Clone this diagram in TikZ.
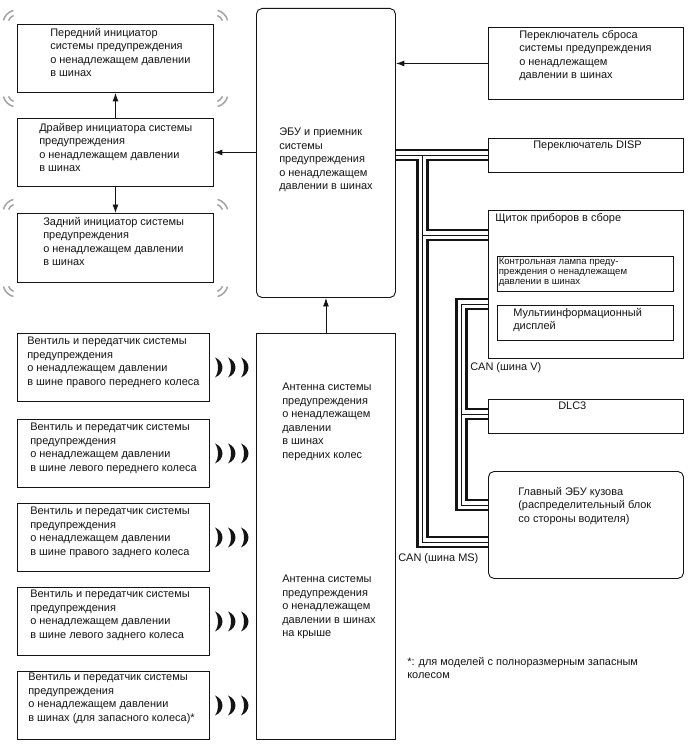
\documentclass[tikz,border=0pt]{standalone}
\usepackage{fontspec}
\setmainfont{Liberation Sans}
\usetikzlibrary{arrows.meta,calc}
\definecolor{tInk}{RGB}{20,20,20}
\definecolor{tPing}{RGB}{165,165,165}

\begin{document}
\begin{tikzpicture}[
				x=0.025cm,y=-0.025cm,
				>={Latex[length=6pt,width=4.2pt]},
				blk/.style={
					draw=tInk,line width=0.65pt,inner sep=0pt,anchor=north west,
					minimum width=4.9cm,minimum height=1.7cm
				},
				rblk/.style={blk,rounded corners=4pt},
				txt/.style={anchor=north west,inner sep=0pt,align=left,text=tInk,font=\fontsize{7.8}{9.6}\selectfont},
				sml/.style={txt,font=\fontsize{6.8}{7.1}\selectfont},
				lnk/.style={->,draw=tInk,line width=0.6pt},
				bus/.style={
					draw=tInk,line width=0.6pt,
					preaction={draw=tInk,line width=9pt},
					preaction={draw=white,line width=5pt}
				},
				pingline/.style={draw=tPing,line width=1.1pt},
				ping/.pic={
					\draw[pingline] (112:6.5pt) arc[start angle=112,end angle=158,radius=6.5pt];
					\draw[pingline] (105:10pt) arc[start angle=105,end angle=165,radius=10pt];
				},
				waves/.pic={
					\fill[tInk] (0,-10) .. controls (10,-6) and (10,6) .. (0,10) .. controls (4,5) and (4,-5) .. cycle;
					\fill[tInk] (13,-10) .. controls (23,-6) and (23,6) .. (13,10) .. controls (17,5) and (17,-5) .. cycle;
					\fill[tInk] (26,-10) .. controls (36,-6) and (36,6) .. (26,10) .. controls (30,5) and (30,-5) .. cycle;
				}
				]
				\useasboundingbox (0,0) rectangle (688,755);

				\node[blk] (fini) at (17,24)  {};
				\node[blk] (drv)  at (17,118) {};
				\node[blk,minimum height=1.725cm] (rini) at (17,213) {};
				\node[rblk,minimum width=3.475cm,minimum height=7.225cm] (ecu) at (256,8) {};
				\node[blk,minimum width=4.875cm,minimum height=1.8cm]  (rst)  at (488,27)  {};
				\node[blk,minimum width=4.875cm,minimum height=0.85cm] (disp) at (488,138) {};
				\node[blk,minimum width=4.875cm,minimum height=3.7cm]  (cmb)  at (488,210) {};
				\node[blk,minimum width=4.4cm,minimum height=0.875cm]  (lamp) at (497,256) {};
				\node[blk,minimum width=4.4cm,minimum height=0.875cm]  (mid)  at (497,305) {};
				\node[blk,minimum width=4.875cm,minimum height=0.85cm] (dlc)  at (488,399) {};
				\node[rblk,minimum width=4.875cm,minimum height=2.675cm] (bcm) at (488,471) {};
				\node[blk,minimum width=3.475cm,minimum height=10.15cm] (ant) at (256,333) {};
				\node[blk,minimum width=4.8cm] (tx1) at (17,333) {};
				\node[blk,minimum width=4.8cm] (tx2) at (17,419) {};
				\node[blk,minimum width=4.8cm] (tx3) at (17,503) {};
				\node[blk,minimum width=4.8cm] (tx4) at (17,587) {};
				\node[blk,minimum width=4.8cm] (tx5) at (17,671) {};

				\node[txt] (finiT) at ($(fini.north west)+(33,4)$)  {Передний инициатор\\системы предупреждения\\о ненадлежащем давлении\\в шинах};
				\node[txt] (drvT)  at ($(drv.north west)+(22,5)$)   {Драйвер инициатора системы\\предупреждения\\о ненадлежащем давлении\\в шинах};
				\node[txt] (riniT) at ($(rini.north west)+(26,4)$)  {Задний инициатор системы\\предупреждения\\о ненадлежащем давлении\\в шинах};
				\node[txt] (ecuT)  at ($(ecu.north west)+(23,120)$) {ЭБУ и приемник\\системы\\предупреждения\\о ненадлежащем\\давлении в шинах};
				\node[txt] (rstT)  at ($(rst.north west)+(31,3)$)   {Переключатель сброса\\системы предупреждения\\о ненадлежащем\\давлении в шинах};
				\node[txt] (dispT) at ($(disp.north west)+(45,3)$)  {Переключатель DISP};
				\node[txt] (cmbT)  at ($(cmb.north west)+(7,3)$)    {Щиток приборов в сборе};
				\node[sml] (lampT) at ($(lamp.north west)+(1.5,1.5)$) {Контрольная лампа преду-\\преждения о ненадлежащем\\давлении в шинах};
				\node[txt] (midT)  at ($(mid.north west)+(16,3)$)   {Мультиинформационный\\дисплей};
				\node[txt] (dlcT)  at ($(dlc.north west)+(70,3)$)   {DLC3};
				\node[txt] (bcmT)  at ($(bcm.north west)+(30,16)$)  {Главный ЭБУ кузова\\(распределительный блок\\со стороны водителя)};
				\node[txt] (antF)  at ($(ant.north west)+(26,50)$)  {Антенна системы\\предупреждения\\о ненадлежащем\\давлении\\в шинах\\передних колес};
				\node[txt] (antR)  at ($(ant.north west)+(26,242)$) {Антенна системы\\предупреждения\\о ненадлежащем\\давлении в шинах\\на крыше};
				\node[txt] (tx1T)  at ($(tx1.north west)+(10,4)$)   {Вентиль и передатчик системы\\предупреждения\\о ненадлежащем давлении\\в шине правого переднего колеса};
				\node[txt] (tx2T)  at ($(tx2.north west)+(13,4)$)   {Вентиль и передатчик системы\\предупреждения\\о ненадлежащем давлении\\в шине левого переднего колеса};
				\node[txt] (tx3T)  at ($(tx3.north west)+(13,4)$)   {Вентиль и передатчик системы\\предупреждения\\о ненадлежащем давлении\\в шине правого заднего колеса};
				\node[txt] (tx4T)  at ($(tx4.north west)+(13,3)$)   {Вентиль и передатчик системы\\предупреждения\\о ненадлежащем давлении\\в шине левого заднего колеса};
				\node[txt] (tx5T)  at ($(tx5.north west)+(11,2)$)   {Вентиль и передатчик системы\\предупреждения\\о ненадлежащем давлении\\в шинах (для запасного колеса)*};
				\node[txt] (canV)  at (470,362) {CAN (шина V)};
				\node[txt] (canMS) at (398,553) {CAN (шина MS)};
				\node[txt] (note)  at (407,657) {*: для моделей с полноразмерным запасным\\колесом};

				\draw[lnk] (drv.east -| ecu.west) -- (drv.east);
				\draw[lnk] (drv.north) -- (fini.south);
				\draw[lnk] (drv.south) -- (rini.north);
				\draw[lnk] (rst.west) -- (rst.west -| ecu.east);
				\draw[lnk] (ant.north) -- (ecu.south);

				\coordinate (ms1) at (422.5,155);
				\coordinate (ms2) at (422.5,235);
				\coordinate (ms3) at (422.5,542);
				\coordinate (v1)  at (461.5,304);
				\coordinate (v2)  at (461.5,414);
				\coordinate (v3)  at (461.5,505);
				\draw[bus] (ecu.east |- ms1) -- (disp.west |- ms1)
					(ms1) -- (ms3) -- (bcm.west |- ms3)
					(ms2) -- (cmb.west |- ms2);
				\draw[bus] (cmb.west |- v1) -- (v1) -- (v3) -- (bcm.west |- v3)
					(v2) -- (dlc.west |- v2);

				\pic at (fini.north west) {ping};
				\pic[rotate=-90] at (fini.north east) {ping};
				\pic[rotate=180] at (fini.south east) {ping};
				\pic[rotate=90] at (fini.south west) {ping};
				\pic at (rini.north west) {ping};
				\pic[rotate=-90] at (rini.north east) {ping};
				\pic[rotate=180] at (rini.south east) {ping};
				\pic[rotate=90] at (rini.south west) {ping};

				\pic at ($(tx1.east)+(5,0)$) {waves};
				\pic at ($(tx2.east)+(5,0)$) {waves};
				\pic at ($(tx3.east)+(5,0)$) {waves};
				\pic at ($(tx4.east)+(5,0)$) {waves};
				\pic at ($(tx5.east)+(5,0)$) {waves};
			\end{tikzpicture}
\end{document}
